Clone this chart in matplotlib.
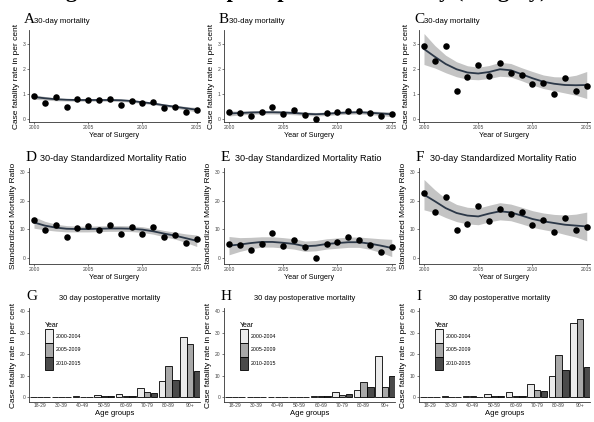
import numpy as np
import matplotlib
matplotlib.use("Agg")
import matplotlib.pyplot as plt

W, H = 594, 422

years = np.arange(2000, 2016)

# panel A-C: case fatality rate (per cent)
cfr_a = [0.93, 0.64, 0.88, 0.48, 0.80, 0.77, 0.77, 0.81, 0.57, 0.73, 0.64, 0.68, 0.44, 0.49, 0.28, 0.37]
fit_a = [0.88, 0.83, 0.79, 0.77, 0.76, 0.76, 0.76, 0.76, 0.75, 0.72, 0.67, 0.62, 0.55, 0.49, 0.43, 0.37]
se_a = [0.09, 0.07, 0.06, 0.05, 0.05, 0.05, 0.05, 0.05, 0.05, 0.05, 0.05, 0.05, 0.05, 0.06, 0.07, 0.09]

cfr_b = [0.27, 0.24, 0.13, 0.27, 0.47, 0.21, 0.37, 0.17, 0.00, 0.24, 0.27, 0.33, 0.31, 0.24, 0.11, 0.20]
fit_b = [0.22, 0.24, 0.26, 0.27, 0.27, 0.26, 0.24, 0.21, 0.19, 0.21, 0.24, 0.26, 0.27, 0.25, 0.22, 0.19]
se_b = [0.10, 0.08, 0.07, 0.07, 0.07, 0.07, 0.07, 0.07, 0.07, 0.07, 0.07, 0.07, 0.07, 0.07, 0.08, 0.10]

cfr_c = [2.91, 2.33, 2.93, 1.12, 1.70, 2.17, 1.72, 2.23, 1.83, 1.75, 1.41, 1.45, 1.02, 1.66, 1.12, 1.32]
fit_c = [2.80, 2.49, 2.20, 1.99, 1.86, 1.82, 1.88, 1.99, 1.95, 1.79, 1.63, 1.49, 1.41, 1.36, 1.35, 1.36]
se_c = [0.62, 0.45, 0.35, 0.30, 0.27, 0.25, 0.26, 0.28, 0.27, 0.26, 0.27, 0.27, 0.28, 0.32, 0.40, 0.54]

# panel D-F: standardized mortality ratio
smr_d = [13.4, 9.9, 11.6, 7.3, 10.5, 11.3, 9.7, 11.5, 8.4, 10.8, 8.5, 10.7, 7.3, 7.9, 5.2, 6.6]
fit_d = [12.4, 11.3, 10.6, 10.2, 10.1, 10.1, 10.2, 10.3, 10.3, 10.2, 9.9, 9.3, 8.5, 7.8, 6.9, 6.0]
se_d = [2.0, 1.5, 1.2, 1.1, 1.0, 1.0, 1.0, 1.0, 1.0, 1.0, 1.0, 1.0, 1.1, 1.2, 1.5, 2.0]

smr_e = [5.0, 4.4, 2.9, 5.0, 8.6, 4.1, 6.4, 4.0, 0.0, 4.9, 5.5, 7.3, 6.4, 4.4, 2.2, 3.8]
fit_e = [4.3, 4.7, 5.2, 5.6, 5.6, 5.3, 4.9, 4.1, 4.3, 4.9, 5.2, 5.5, 5.5, 5.0, 4.3, 3.5]
se_e = [3.2, 2.4, 2.0, 1.8, 1.8, 1.8, 1.8, 1.8, 1.8, 1.8, 1.8, 1.8, 1.8, 2.0, 2.4, 3.0]

smr_f = [22.7, 15.9, 21.2, 9.7, 12.0, 18.0, 13.0, 17.0, 15.5, 16.0, 11.4, 13.1, 9.2, 14.1, 9.7, 10.7]
fit_f = [22.1, 19.8, 17.4, 15.7, 14.8, 14.5, 15.5, 16.3, 15.9, 14.8, 13.6, 12.8, 12.2, 11.6, 11.3, 11.0]
se_f = [5.3, 4.0, 3.3, 3.0, 2.9, 2.9, 2.9, 3.0, 2.9, 2.9, 2.9, 2.9, 3.0, 3.4, 4.0, 5.0]

# panel G-I: 30 day postoperative mortality by age group
age_groups = ["18-29", "30-39", "40-49", "50-59", "60-69", "70-79", "80-89", "90+"]
periods = ["2000-2004", "2005-2009", "2010-2015"]
bars_g = [[0.1, 0.2, 0.4, 0.8, 1.4, 4.2, 7.3, 27.8],
          [0.1, 0.1, 0.2, 0.4, 0.5, 2.3, 14.5, 24.6],
          [0.1, 0.1, 0.2, 0.4, 0.5, 1.9, 8.0, 11.9]]
bars_h = [[0.1, 0.1, 0.1, 0.2, 0.4, 2.5, 3.2, 19.2],
          [0.1, 0.1, 0.1, 0.2, 0.3, 1.1, 7.0, 4.8],
          [0.1, 0.1, 0.1, 0.2, 0.3, 1.5, 4.5, 9.6]]
bars_i = [[0.1, 0.3, 0.4, 1.5, 2.2, 5.9, 10.0, 34.3],
          [0.1, 0.2, 0.3, 0.6, 0.7, 3.4, 19.5, 36.1],
          [0.1, 0.1, 0.2, 0.7, 0.7, 2.9, 12.4, 14.2]]
bar_colors = ["#ebebeb", "#a8a8a8", "#4a4a4a"]

sans = ["Liberation Sans", "DejaVu Sans"]
serif = ["Liberation Serif", "DejaVu Serif"]
plt.rcParams["font.family"] = sans

fig = plt.figure(figsize=(W / 100, H / 100), dpi=100)


def px_axes(left, top, right, bottom):
    return fig.add_axes([left / W, 1 - bottom / H, (right - left) / W, (bottom - top) / H])


def style(ax):
    for sp in ["top", "right"]:
        ax.spines[sp].set_visible(False)
    for sp in ["left", "bottom"]:
        ax.spines[sp].set_linewidth(0.6)
        ax.spines[sp].set_color("#333333")
    ax.tick_params(labelsize=3.6, length=1.5, width=0.5, pad=1, colors="#444444")


def trend(ax, pts, fit, se, ylim, yticks, ylabel):
    fit = np.array(fit)
    se = np.array(se)
    ax.fill_between(years, fit - se, fit + se, color="#c4c4c4", lw=0, zorder=1)
    ax.plot(years, fit, color="#2c3848", lw=1.3, zorder=2)
    ax.scatter(years, pts, s=22, color="black", zorder=3, lw=0)
    ax.set_xlim(1999.54, 2015.3)
    ax.set_ylim(*ylim)
    ax.set_xticks([2000, 2005, 2010, 2015])
    ax.set_yticks(yticks)
    style(ax)
    ax.set_xlabel("Year of Surgery", fontsize=5.2, labelpad=1)
    ax.set_ylabel(ylabel, fontsize=6, labelpad=2)


def bars(ax, data):
    x = np.arange(len(age_groups))
    for k in range(3):
        ax.bar(x + (k - 1) * 0.31, data[k], width=0.3, color=bar_colors[k],
               edgecolor="black", linewidth=0.6, label=periods[k])
    ax.set_xlim(-0.51, 7.46)
    ax.set_ylim(-2.3, 41.4)
    ax.set_xticks(x)
    ax.set_xticklabels(age_groups)
    ax.set_yticks([0, 10, 20, 30, 40])
    style(ax)
    ax.tick_params(axis="x", length=0)
    ax.set_xlabel("Age groups", fontsize=5.5, labelpad=1.5)
    ax.set_ylabel("Case fatality rate in per cent", fontsize=6, labelpad=2)
    leg = ax.legend(loc="upper left", bbox_to_anchor=(0.08, 0.87), frameon=False,
                    title="Year", fontsize=3.8, title_fontsize=5, handlelength=1.5,
                    handleheight=3.6, handletextpad=0.6, labelspacing=0.0,
                    borderaxespad=0)
    leg._legend_box.align = "left"


cols = [29, 224, 419]
row1 = [(cfr_a, fit_a, se_a, "A"), (cfr_b, fit_b, se_b, "B"), (cfr_c, fit_c, se_c, "C")]
row2 = [(smr_d, fit_d, se_d, "D"), (smr_e, fit_e, se_e, "E"), (smr_f, fit_f, se_f, "F")]
row3 = [(bars_g, "G"), (bars_h, "H"), (bars_i, "I")]

for c, (pts, fit, se, letter) in zip(cols, row1):
    ax = px_axes(c, 30, c + 171, 122)
    trend(ax, pts, fit, se, (-0.12, 3.56), [0, 1, 2, 3], "Case fatality rate in per cent")
    fig.text((c - 5) / W, 1 - 23 / H, letter, fontsize=11, family=serif)
    fig.text((c + 5) / W, 1 - 23 / H, "30-day mortality", fontsize=5.6)

for c, (pts, fit, se, letter) in zip(cols, row2):
    ax = px_axes(c, 168, c + 171, 264)
    trend(ax, pts, fit, se, (-2.1, 31.4), [0, 10, 20, 30], "Standardized Mortality Ratio")
    fig.text((c - 3) / W, 1 - 161 / H, letter, fontsize=11, family=serif)
    fig.text((c + 11) / W, 1 - 161 / H, "30-day Standardized Mortality Ratio", fontsize=6.6)

for c, (data, letter) in zip(cols, row3):
    ax = px_axes(c, 308, c + 171, 402)
    bars(ax, data)
    fig.text((c - 3) / W, 1 - 300 / H, letter, fontsize=11, family=serif)
    fig.text((c + 81) / W, 1 - 300 / H, "30 day postoperative mortality", fontsize=5.4,
             ha="center")

# title line cut off by the crop, only its descenders show
fig.text(0.5, 1 + 3 / H, "Figure 1 Trends in postoperative mortality (Surgery)",
         fontsize=16, family=serif, weight="bold", ha="center", va="baseline")

fig.savefig("out.png", dpi=100)
